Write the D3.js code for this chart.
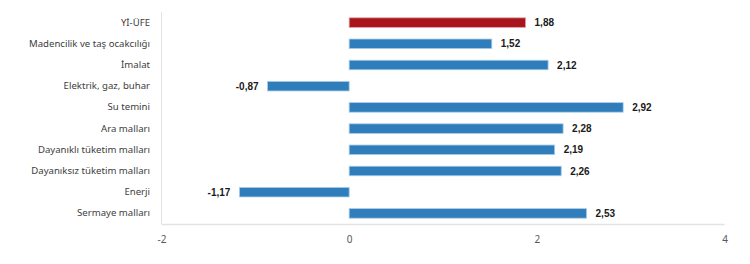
<!DOCTYPE html>
<html><head><meta charset="utf-8">
<script src="https://cdn.jsdelivr.net/npm/d3@7"></script>
<style>body{margin:0;background:#fff;}svg{display:block;}</style>
</head><body>
<svg id="c" width="750" height="264"></svg>
<script>
const categories = ["Yİ-ÜFE","Madencilik ve taş ocakcılığı","İmalat","Elektrik, gaz, buhar","Su temini","Ara malları","Dayanıklı tüketim malları","Dayanıksız tüketim malları","Enerji","Sermaye malları"];
const values = [1.88,1.52,2.12,-0.87,2.92,2.28,2.19,2.26,-1.17,2.53];
const tickValues = [-2,0,2,4];
const highlight = ["Yİ-ÜFE"];

const svg = d3.select("#c");
const x = d3.scaleLinear().domain([-2,4]).range([161.5,724.5]);
const y = d3.scaleBand().domain(categories).range([12,224]).paddingInner(0.55).paddingOuter(0.275);
const fmt = v => d3.format(".2f")(v).replace("\u2212","-").replace(".",",");

// axis lines
svg.append("line").attr("x1",161.5).attr("x2",161.5).attr("y1",12).attr("y2",224).attr("stroke","#e3e3e3").attr("stroke-width",1);
svg.append("line").attr("x1",161.5).attr("x2",724.5).attr("y1",224.5).attr("y2",224.5).attr("stroke","#e3e3e3").attr("stroke-width",1.5);

// x axis ticks
const xa = svg.append("g").attr("transform","translate(0,224)").call(d3.axisBottom(x).tickValues(tickValues).tickSize(0).tickPadding(12).tickFormat(d=>String(d)));
xa.select(".domain").remove();
xa.selectAll("text").attr("fill","#595959").style("font-family","'Noto Sans', sans-serif").style("font-size","10px");

// y labels
const ya = svg.append("g").attr("transform","translate(150,0)").call(d3.axisLeft(y).tickSize(0).tickPadding(0));
ya.select(".domain").remove();
ya.selectAll("text").attr("fill","#404040").style("font-family","'Noto Sans', sans-serif").style("font-size","9.6px");

// bars
svg.selectAll("rect.bar").data(categories).enter().append("rect")
  .attr("class","bar")
  .attr("x",(d,i)=>x(Math.min(0,values[i])))
  .attr("width",(d,i)=>Math.abs(x(values[i])-x(0)))
  .attr("y",d=>y(d))
  .attr("height",y.bandwidth())
  .attr("fill",d=>highlight.includes(d)?"#a8151d":"#2f7dba")
  .attr("stroke",d=>highlight.includes(d)?"#e0a0a0":"#a9cde8")
  .attr("stroke-width",0.8);

// value labels
svg.selectAll("text.val").data(categories).enter().append("text")
  .attr("class","val")
  .attr("x",(d,i)=>values[i]>=0 ? x(values[i])+9 : x(values[i])-9)
  .attr("y",d=>y(d)+y.bandwidth()/2)
  .attr("dy","0.35em")
  .attr("text-anchor",(d,i)=>values[i]>=0?"start":"end")
  .attr("fill","#1a1a1a")
  .style("font-family","'Liberation Sans', Arial, sans-serif")
  .style("font-size","10px").style("font-weight","bold")
  .text((d,i)=>fmt(values[i]));
</script>
</body></html>
